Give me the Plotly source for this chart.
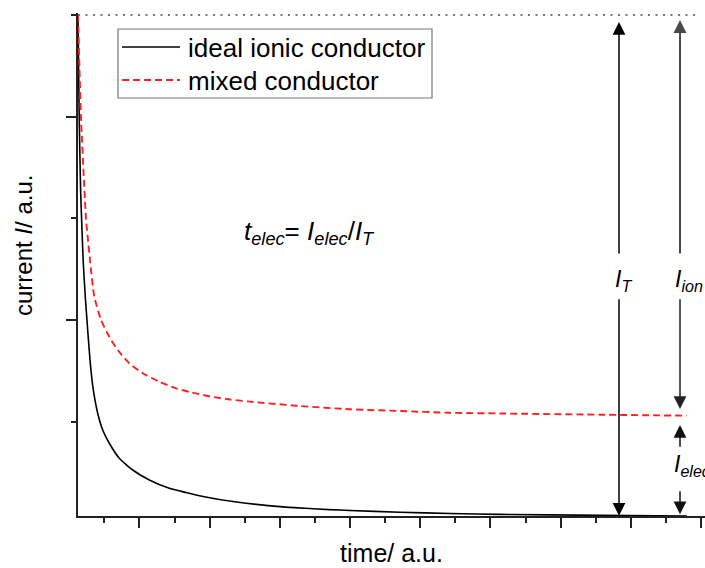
import plotly.graph_objects as go

# ---- data ----
t_ideal = [0.125, 0.1425, 0.1624, 0.1823, 0.2009, 0.2293, 0.2635, 0.3006, 0.3433, 0.406,
           0.4772, 0.5712, 0.7137, 0.9046, 1.141, 1.426, 1.664, 1.906, 2.333, 3.046,
           4.0, 4.712, 5.425, 6.137, 7.561, 8.80]
I_ideal = [5.0, 3.996, 3.278, 2.885, 2.558, 2.229, 1.902, 1.574, 1.312, 1.083,
           0.918, 0.788, 0.640, 0.525, 0.427, 0.345, 0.304, 0.265, 0.215, 0.163,
           0.127, 0.110, 0.098, 0.089, 0.079, 0.073]

t_mixed = [0.125, 0.168, 0.2393, 0.2678, 0.3006, 0.3575, 0.4530, 0.5712, 0.6909, 0.8561,
           1.047, 1.283, 1.521, 1.721, 2.006, 2.291, 2.576, 3.288, 4.0, 4.712,
           5.425, 6.137, 7.561, 8.796]
I_mixed = [5.0, 3.996, 2.993, 2.787, 2.558, 2.229, 2.000, 1.836, 1.705, 1.574,
           1.476, 1.393, 1.328, 1.292, 1.248, 1.218, 1.197, 1.154, 1.122, 1.105,
           1.088, 1.081, 1.069, 1.059]

series_names = ["ideal ionic conductor", "mixed conductor"]
series_colors = ["black", "#ff2020"]
series_dash = ["solid", "7px,4px"]
series_width = [1.6, 1.9]

I_total = 5.0          # level of the dotted line
t_IT = 7.832           # position of the I_T arrow
t_Iion = 8.701         # position of the I_ion / I_elec arrows
t_dotted_end = 8.914

x_major = [1, 2, 3, 4, 5, 6, 7, 8, 9]
x_minor = [0.5, 1.5, 2.5, 3.5, 4.5, 5.5, 6.5, 7.5, 8.5]
y_major = [2, 4]
y_minor = [1, 3, 5]

FONT = "Liberation Sans, Arial, sans-serif"

fig = go.Figure()
for i, (tx, iy) in enumerate([(t_ideal, I_ideal), (t_mixed, I_mixed)]):
    fig.add_trace(go.Scatter(x=tx, y=iy, mode="lines", name=series_names[i], showlegend=False,
                             line=dict(color=series_colors[i], width=series_width[i],
                                       dash=series_dash[i], shape="spline", smoothing=0.5)))

# dotted total-current level
fig.add_shape(type="line", xref="x", yref="y", x0=0.125, x1=t_dotted_end,
              y0=I_total, y1=I_total, line=dict(color="#777777", width=2, dash="2px,5.5px"))

def arrow(x, y_tail, y_tip, color, width, size=1.7):
    fig.add_annotation(x=x, y=y_tip, ax=x, ay=y_tail, xref="x", yref="y",
                       axref="x", ayref="y", text="", showarrow=True,
                       arrowhead=2, arrowsize=size, arrowwidth=width, arrowcolor=color)

# I_T arrows
arrow(t_IT, 2.64, 4.93, "black", 1.5)
arrow(t_IT, 2.22, 0.075, "black", 1.5)
# I_ion arrows
arrow(t_Iion, 2.64, 4.95, "#4a4a4a", 2, 1.3)
arrow(t_Iion, 2.22, 1.125, "#222222", 1.5)
# I_elec arrows
arrow(t_Iion, 0.74, 0.968, "#111111", 1.5)
arrow(t_Iion, 0.33, 0.09, "#111111", 1.5)

lab_font = dict(family=FONT, size=23, color="black")
fig.add_annotation(x=7.89, y=2.39, xref="x", yref="y", showarrow=False,
                   text="<i>I</i><sub><i>T</i></sub>", font=lab_font, xanchor="center")
fig.add_annotation(x=8.6, y=2.39, xref="x", yref="y", showarrow=False,
                   text="<i>I</i><sub><i>ion</i></sub>", font=lab_font, xanchor="left")
fig.add_annotation(x=8.587, y=0.57, xref="x", yref="y", showarrow=False,
                   text="<i>I</i><sub><i>elec</i></sub>", font=lab_font, xanchor="left")
fig.add_annotation(x=3.416, y=2.865, xref="x", yref="y", showarrow=False,
                   text="<i>t</i><sub><i>elec</i></sub>= <i>I</i><sub><i>elec</i></sub>/<i>I</i><sub><i>T</i></sub>",
                   font=dict(family=FONT, size=26, color="black"), xanchor="center")

# ---- legend drawn in paper coordinates ----
PL, PW = 78.0, 627.0     # plot left / width in px
PB, PH = 516.0, 503.0    # plot bottom / height in px
def px_x(p):
    return (p - PL) / PW
def px_y(p):
    return (PB - p) / PH

fig.add_shape(type="rect", xref="paper", yref="paper",
              x0=px_x(118), x1=px_x(432), y0=px_y(98), y1=px_y(29),
              line=dict(color="#777777", width=1.2), fillcolor="white", layer="above")
for i, row_y in enumerate([47, 80]):
    fig.add_shape(type="line", xref="paper", yref="paper", x0=px_x(122), x1=px_x(180),
                  y0=px_y(row_y), y1=px_y(row_y), layer="above",
                  line=dict(color=series_colors[i], width=series_width[i], dash=series_dash[i]))
    fig.add_annotation(x=px_x(186), y=px_y(row_y + 1), xref="paper", yref="paper",
                       text=series_names[i], showarrow=False, xanchor="left", yanchor="middle",
                       font=dict(family=FONT, size=26, color="black"))

# y-axis title
fig.add_annotation(x=px_x(23), y=px_y(246), xref="paper", yref="paper", showarrow=False,
                   text="current <i>I</i>/ a.u.", textangle=-90,
                   xanchor="center", yanchor="middle",
                   font=dict(family=FONT, size=24, color="black"))

axis_common = dict(showgrid=False, zeroline=False, showline=True, linewidth=2,
                   linecolor="#222222", ticks="outside", tickwidth=2, tickcolor="#222222",
                   showticklabels=False, ticklen=10)

fig.update_layout(
    width=705, height=568,
    margin=dict(l=78, r=0, t=13, b=52),
    paper_bgcolor="white", plot_bgcolor="white",
    font=dict(family=FONT, color="black"),
    xaxis=dict(range=[0.1254, 9.057], tickmode="array", tickvals=x_major,
               minor=dict(tickvals=x_minor, ticklen=5, tickwidth=2, tickcolor="#222222",
                          ticks="outside"),
               title=dict(text="time/ a.u.", font=dict(size=25), standoff=17),
               **axis_common),
    yaxis=dict(range=[0.0728, 5.0187], tickmode="array", tickvals=y_major,
               minor=dict(tickvals=y_minor, ticklen=5, tickwidth=2, tickcolor="#222222",
                          ticks="outside"),
               **axis_common),
    showlegend=False,
)

fig.write_html("out.html")
